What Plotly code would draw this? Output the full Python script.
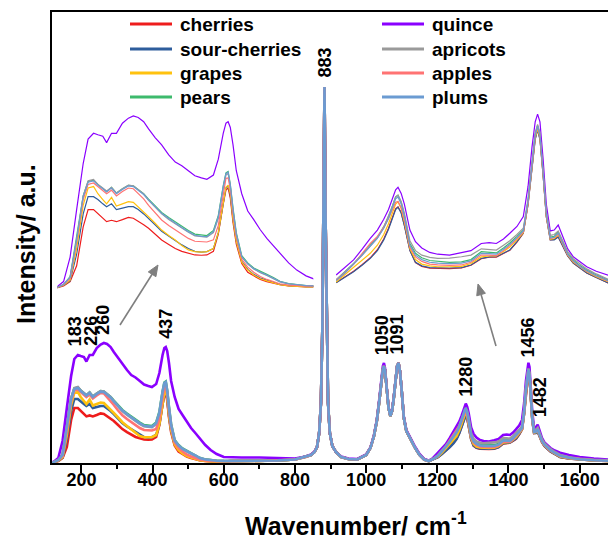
import math
import plotly.graph_objects as go

# ---------------- data (intensity in arbitrary units) ----------------
names = ["cherries", "sour-cherries", "grapes", "pears", "quince", "apricots", "apples", "plums"]
colors = ["#ee1c1c", "#2e5d9c", "#ffc20e", "#3dba6c", "#8a00ff", "#9a9a9a", "#ff7373", "#6b9bd2"]

wn_low = [117, 123, 135, 147, 159, 171, 180, 190, 198, 207, 214, 223, 232, 243, 254, 263, 272, 282,
          291, 303, 315, 328, 340, 352, 364, 376, 388, 398, 410, 419, 428, 433, 437, 441, 446, 452,
          462, 473, 484, 496, 508, 520, 532, 548, 563, 580, 600]
wn_mid = [620, 650, 700, 750, 800, 830, 845, 855, 862, 868, 873, 877, 880, 883, 886, 889, 893, 898,
          905, 915, 930, 950, 975, 1000, 1012, 1022, 1030, 1037, 1043, 1047, 1050, 1053, 1058, 1063,
          1068, 1073, 1078, 1083, 1087, 1091, 1095, 1100, 1106, 1113, 1120, 1128, 1138, 1150, 1163,
          1176, 1188]
wn_high = [1202, 1213, 1224, 1235, 1245, 1254, 1262, 1268, 1273, 1277, 1280, 1284, 1288, 1295, 1302,
           1310, 1320, 1330, 1345, 1360, 1372, 1385, 1395, 1404, 1413, 1421, 1430, 1438, 1444, 1449,
           1453, 1456, 1459, 1463, 1467, 1472, 1477, 1482, 1488, 1494, 1501, 1510, 1518, 1530, 1545,
           1570, 1600, 1640, 1680]

cherries_low = [0, 0.5, 2, 5, 16, 43, 55, 55, 52.4, 49, 46.6, 47.6, 46.6, 48, 49.6, 49, 47, 44.5, 42, 38,
                33.9, 30.8, 28, 26, 24.7, 23.5, 23.3, 23.5, 26, 38, 59, 68.6, 70, 63, 46, 31, 17.5, 11.5,
                9, 6.5, 5, 3.8, 2.8, 2, 1.5, 1.3, 1.3]
sour_low = [0, 0.8, 2.5, 5.5, 24, 52, 64, 64, 62, 59, 57, 59, 55, 56, 57, 57, 55, 52, 49, 44.5,
            40, 36.5, 33.9, 30.5, 28, 26, 25.5, 25.8, 28, 39, 59, 70, 71.5, 65, 48, 33, 19, 13.5,
            10, 7.5, 6, 4.5, 3, 2.2, 1.8, 1.5, 1.5]
grapes_low = [0, 0.8, 2.5, 6, 28, 58, 70, 71, 66, 62, 59, 63.5, 57.5, 59, 60.5, 60, 57, 53.5, 50, 45.5,
              40.8, 37, 33.9, 30, 27, 25.8, 25.5, 25.8, 28, 39, 59, 70.5, 72, 66, 48, 33, 18.5, 13,
              9.6, 7, 5.5, 4, 2.8, 2, 1.6, 1.4, 1.4]
pears_low = [0, 1, 3, 8.5, 35, 64.5, 74.5, 75.5, 72.5, 70, 67.5, 70.5, 66.5, 69.5, 71.8, 71.5, 69, 66,
             62.3, 57.8, 53, 49.5, 46.3, 43.3, 40.5, 38, 37.2, 37, 40.5, 51, 71.5, 80.5, 81.5, 72.5,
             56, 39, 23, 18, 14.5, 12, 10, 7.8, 5.2, 3.6, 2.9, 2.3, 2.1]
quince_low = [0.5, 1.5, 5, 22, 55, 87, 104, 108, 107, 106, 101.5, 108, 108, 115, 118.5, 120, 119, 116,
              111, 105, 100, 93, 88, 85.5, 82, 78.5, 77, 76, 79, 90, 108, 115, 116, 112, 100, 82, 66,
              54, 48, 41, 35, 30, 24.7, 18, 13, 9, 6]
apricots_low = [0, 1, 3, 8, 34, 64.5, 75, 76, 72.5, 70, 68, 70.5, 66.5, 69.5, 72, 71.5, 69, 65.8, 61.5,
                56.5, 52, 48.2, 45, 42, 39.2, 36.8, 36, 35.8, 39, 49, 70, 79, 80, 71, 54, 37.5, 22,
                17.2, 13.8, 11.2, 9.3, 7.2, 4.8, 3.4, 2.7, 2.1, 2]
apples_low = [0, 1, 3, 7, 32, 62, 72.5, 73.5, 71, 68, 66, 68.5, 64.5, 67.5, 70, 69.5, 66, 62.5, 58, 52.5,
              47.8, 44, 40.8, 37.8, 35, 33, 32.7, 32.5, 34, 44, 65, 76.7, 77, 69, 52, 36, 20.5, 15,
              11.5, 8.5, 6.5, 5, 3.5, 2.5, 2, 1.8, 1.8]
plums_low = [0, 1, 3, 8, 34, 64, 74, 75, 72, 69.5, 67.4, 70, 66, 69, 71.4, 71, 68.6, 65.5, 61.7, 57,
             52.4, 48.8, 45.5, 42.5, 39.7, 37.2, 36.4, 36.2, 39.7, 50, 71, 80, 81, 72, 55, 38, 22.3,
             17.5, 14, 11.5, 9.6, 7.5, 5, 3.5, 2.8, 2.2, 2]

mid_common = [2, 2, 2, 2.5, 3.5, 6, 8, 11, 16, 30, 60, 135, 245, 376, 245, 135, 60, 30, 17, 11,
              6, 4, 3.5, 8, 15, 27, 42, 62, 84, 94, 97, 93, 74, 55, 47, 52, 66, 86, 97, 100,
              92, 72, 45, 32, 27, 22, 15, 8, 3.5, 2, 4]
quince_mid = [5.5, 5.5, 5.5, 5, 4.5, 6.5, 8.5, 11.5, 16, 30, 60, 135, 245, 376, 245, 135, 60, 30, 17, 11,
              6.5, 4.5, 4, 8.5, 15.5, 28, 43, 64, 86, 97, 100, 95, 75, 56, 48, 53, 67, 87, 97, 100,
              92, 72, 46, 33, 28, 23, 16, 9, 4, 2.5, 5]

cherries_high = [6.2, 9.2, 12.5, 16.3, 20, 24.5, 30.5, 36.5, 42.5, 47.5, 48.5, 45.3, 38.3, 24.2, 17.3,
                 15.2, 14.2, 14, 14, 14.3, 15.8, 19.5, 20.3, 20.4, 22.3, 24.2, 28.8, 33.7, 50, 71,
                 86.5, 92, 86.5, 66, 43, 30, 30.2, 31.8, 26.5, 21, 17, 14, 11.5, 9, 6, 4.6, 3.5, 2.5, 2]
sour_high = [6, 9, 12.2, 16, 19.7, 24, 30, 36, 42, 47, 48.2, 45, 38, 24, 17.5, 15.5, 14.5, 14.3, 14.3,
             14.5, 16, 19.7, 20.5, 20.6, 22.5, 24.4, 29, 33.9, 50, 71, 86, 91.4, 86, 66, 43, 30, 30,
             31.6, 26.5, 21, 17, 14, 11.5, 9, 5.9, 4.5, 3.5, 2.5, 2]
grapes_high = [6.5, 10.5, 15, 19, 22.5, 27, 33, 39, 45, 50, 51.3, 47.5, 40, 25, 19, 16.5, 15.5, 15, 15,
               15.2, 16.8, 20.5, 21, 21, 23.5, 26, 30, 34, 50.5, 72, 87, 92, 87, 66.5, 43.5, 30.3,
               30.8, 33, 27, 21.5, 17.6, 14.5, 12.2, 9.5, 6.6, 4.8, 3.6, 2.6, 2.1]
pears_high = [7.6, 12, 16.9, 22, 27, 31.5, 37.4, 43, 49, 54, 55, 51, 44, 28, 22.5, 20, 18.5, 18, 17.5,
              17.7, 19, 23.4, 23, 22.7, 25.5, 28.3, 32, 35.5, 52, 74, 89, 94, 89, 68, 45, 31.6, 32,
              34.4, 28.3, 22.5, 18.8, 15.5, 13.2, 10.5, 7.6, 5.5, 4, 3, 2.5]
quince_high = [10.4, 14.5, 18.8, 25, 30.9, 35.5, 41.5, 47, 53, 58, 59.4, 56, 50, 35.5, 29, 25.5, 23, 22,
               21.5, 22.7, 24, 28, 28.5, 28, 30.5, 33.7, 37.5, 43, 60, 82, 96, 100.3, 96, 75, 50, 35,
               35.5, 38.3, 31.8, 25, 20.6, 17.5, 15, 12.5, 10.3, 8, 6, 4.5, 3.5]
apricots_high = [7.8, 12, 16.5, 21.5, 26.5, 31, 37, 43, 49, 54, 55, 51.5, 45, 29.5, 24, 21.5, 20.2, 19.7,
                 19.8, 20.6, 21.5, 25, 24.8, 24.3, 27, 29.5, 33, 36.5, 53, 75, 90, 94.5, 90, 69, 46,
                 32.5, 33, 35, 29, 23.5, 19.5, 16.3, 13.8, 11, 8, 5.8, 4.2, 3.2, 2.6]
apples_high = [7.5, 11.5, 16.5, 22.5, 28, 32, 37, 42, 47, 51, 51.5, 48, 41, 26, 20.5, 18, 16.5, 16, 15.8,
               16, 17.5, 21.5, 21.5, 21.2, 24, 26.8, 30.8, 34.5, 51, 73, 88, 93, 88, 67, 44, 30.8,
               31.3, 33.5, 27.5, 21.8, 18, 14.8, 12.5, 9.8, 7, 5, 3.7, 2.7, 2.2]
plums_high = [7.3, 11.5, 16.5, 21.5, 26.5, 31, 36.5, 42, 48, 53, 54, 50, 43, 27, 21.5, 19, 17.5, 17,
              16.8, 17, 18.3, 22.5, 22.3, 22, 24.8, 27.5, 31.3, 35, 51.5, 73.5, 88.5, 93.5, 88.5,
              67.5, 44.5, 31, 31.5, 33.8, 27.8, 22, 18.3, 15, 12.8, 10, 7.2, 5.2, 3.8, 2.8, 2.3]

peak_labels = ["183", "226", "260", "437", "883", "1050", "1091", "1280", "1456", "1482"]
peak_label_x = [183, 226, 260, 437, 883, 1045, 1088, 1280, 1456, 1489]
peak_label_y = [132, 132, 143, 139, 400, 128, 129, 86, 126, 66]

x_ticks = [200, 400, 600, 800, 1000, 1200, 1400, 1600]

low_parts = [cherries_low, sour_low, grapes_low, pears_low, quince_low, apricots_low, apples_low, plums_low]
mid_parts = [mid_common, mid_common, mid_common, mid_common, quince_mid, mid_common, mid_common, mid_common]
high_parts = [cherries_high, sour_high, grapes_high, pears_high, quince_high, apricots_high, apples_high, plums_high]

# ---------------- layout geometry ----------------
W, H = 608, 538
L, R, T, B = 52, 0, 12, 75
PW, PH = W - L - R, H - T - B


def px_x(px):
    return (px - L) / PW


def px_y(py):
    return (H - B - py) / PH


FONT = "Arial, Liberation Sans, sans-serif"
fig = go.Figure()

# main spectra
for nm, col, lo, mi, hi in zip(names, colors, low_parts, mid_parts, high_parts):
    fig.add_trace(go.Scatter(x=wn_low + wn_mid + wn_high, y=lo + mi + hi, mode="lines",
                             line=dict(color=col, width=2.6), name=nm, showlegend=False,
                             hoverinfo="skip"))
# left inset (magnified low-wavenumber region)
for nm, col, lo in zip(names, colors, low_parts):
    fig.add_trace(go.Scatter(x=wn_low, y=lo, mode="lines", line=dict(color=col, width=1.2),
                             xaxis="x2", yaxis="y2", showlegend=False, hoverinfo="skip"))
# right inset (magnified high-wavenumber region)
for nm, col, hi in zip(names, colors, high_parts):
    fig.add_trace(go.Scatter(x=wn_high, y=hi, mode="lines", line=dict(color=col, width=1.2),
                             xaxis="x3", yaxis="y3", showlegend=False, hoverinfo="skip"))

annotations = []
shapes = []

# peak labels
for t, xv, yv in zip(peak_labels, peak_label_x, peak_label_y):
    annotations.append(dict(x=xv, y=yv, xref="x", yref="y", text=t, showarrow=False, textangle=-90,
                            xanchor="center", yanchor="middle",
                            font=dict(family=FONT, size=18, color="black", weight="bold")))

# legend (two columns)
order_cols = [[0, 1, 2, 3], [4, 5, 6, 7]]
col_line_x = [(130, 172), (382, 424)]
col_text_x = [178, 430]
row_y = [24, 49, 73, 97]
for c, idxs in enumerate(order_cols):
    for r, i in enumerate(idxs):
        shapes.append(dict(type="line", xref="paper", yref="paper",
                           x0=px_x(col_line_x[c][0]), x1=px_x(col_line_x[c][1]),
                           y0=px_y(row_y[r]), y1=px_y(row_y[r]),
                           line=dict(color=colors[i], width=3)))
        annotations.append(dict(x=px_x(col_text_x[c]), y=px_y(row_y[r]), xref="paper", yref="paper",
                                text=names[i], showarrow=False, xanchor="left", yanchor="middle",
                                font=dict(family=FONT, size=19, color="black", weight="bold")))

# arrows pointing to insets (line + filled head, drawn as shapes)
ARROW = "#7f7f7f"
for tip, tail in [((158, 265), (120, 325)), ((478, 284), (496, 346))]:
    dx, dy = tip[0] - tail[0], tip[1] - tail[1]
    n = math.hypot(dx, dy)
    ux, uy = dx / n, dy / n
    hl, hw = 11, 4.5
    bx, by = tip[0] - ux * hl, tip[1] - uy * hl
    shapes.append(dict(type="line", xref="paper", yref="paper",
                       x0=px_x(tail[0]), y0=px_y(tail[1]), x1=px_x(bx), y1=px_y(by),
                       line=dict(color=ARROW, width=1.6)))
    p1 = (bx - uy * hw, by + ux * hw)
    p2 = (bx + uy * hw, by - ux * hw)
    path = "M {:.5f} {:.5f} L {:.5f} {:.5f} L {:.5f} {:.5f} Z".format(
        px_x(tip[0]), px_y(tip[1]), px_x(p1[0]), px_y(p1[1]), px_x(p2[0]), px_y(p2[1]))
    shapes.append(dict(type="path", xref="paper", yref="paper", path=path,
                       fillcolor=ARROW, line=dict(color=ARROW, width=1)))

# axis titles
annotations.append(dict(x=px_x(356), y=px_y(524), xref="paper", yref="paper",
                        text="Wavenumber/ cm<sup>-1</sup>", showarrow=False,
                        xanchor="center", yanchor="middle",
                        font=dict(family=FONT, size=25, color="black", weight="bold")))
annotations.append(dict(x=px_x(26), y=px_y(244), xref="paper", yref="paper",
                        text="Intensity/ a.u.", showarrow=False, textangle=-90,
                        xanchor="center", yanchor="middle",
                        font=dict(family=FONT, size=25, color="black", weight="bold")))

fig.update_layout(
    width=W, height=H, margin=dict(l=L, r=R, t=T, b=B),
    paper_bgcolor="white", plot_bgcolor="rgba(0,0,0,0)",
    font=dict(family=FONT, color="black"),
    showlegend=False,
    annotations=annotations, shapes=shapes,
    xaxis=dict(range=[117.3, 1679.6], domain=[0, 1], tickmode="array", tickvals=x_ticks,
               ticks="outside", ticklen=8, tickwidth=1.5, tickcolor="black",
               ticklabelstandoff=-8,
               minor=dict(dtick=100, tick0=100, ticks="outside", ticklen=4, tickwidth=1.5, tickcolor="black"),
               showline=True, linecolor="black", linewidth=1.5, mirror=True,
               showgrid=False, zeroline=False,
               tickfont=dict(family=FONT, size=18, color="black", weight="bold")),
    yaxis=dict(range=[0, 451], domain=[0, 1], showticklabels=False, ticks="",
               showline=True, linecolor="black", linewidth=1.5, mirror=False,
               showgrid=False, zeroline=False),
    xaxis2=dict(domain=[px_x(57.3), px_x(313.3)], range=[123.5, 593.3], anchor="y2", visible=False),
    yaxis2=dict(domain=[px_y(300), px_y(100)], range=[(288.8 - 300) / 1.44, (288.8 - 100) / 1.44],
                anchor="x2", visible=False),
    xaxis3=dict(domain=[px_x(336), 1.0], range=[1201.8, 1544.8], anchor="y3", visible=False),
    yaxis3=dict(domain=[px_y(300), px_y(100)], range=[(293.6 - 300) / 1.79, (293.6 - 100) / 1.79],
                anchor="x3", visible=False),
)

fig.write_html("out.html", config={"displayModeBar": False},
               post_script="document.body.style.margin='0';document.body.style.overflow='hidden';")
